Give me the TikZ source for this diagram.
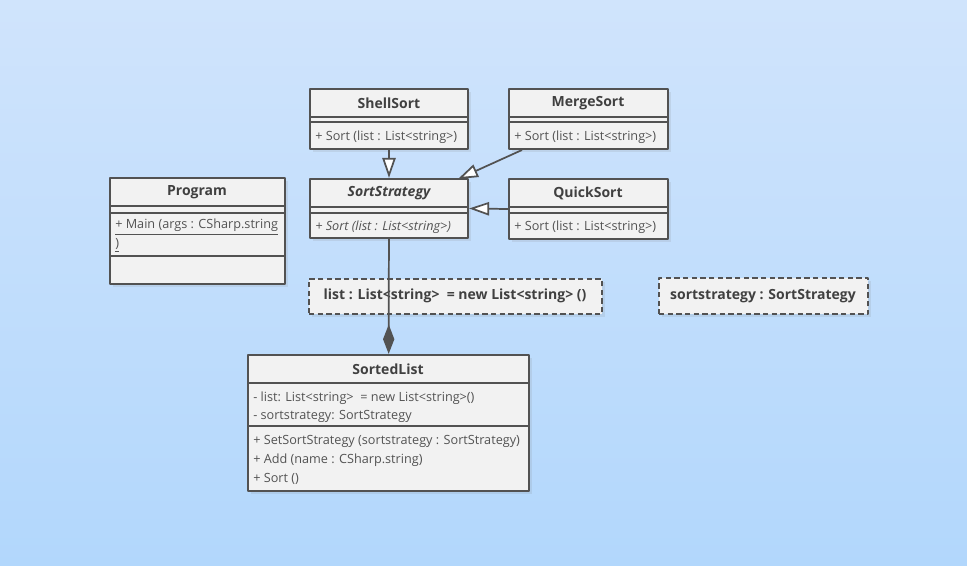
\documentclass[tikz,border=0pt]{standalone}
\usepackage{fontspec}
\setmainfont{Open Sans}
\usetikzlibrary{arrows.meta,shadows,fit}
\definecolor{bgtop}{RGB}{208,228,252}
\definecolor{bgbot}{RGB}{178,215,252}
\definecolor{boxfill}{RGB}{242,242,242}
\definecolor{boxline}{RGB}{82,82,82}
\definecolor{txt}{RGB}{64,64,64}
\tikzset{
	classbox/.style={draw=boxline, fill=boxfill, line width=1.7pt, inner sep=0pt,
		drop shadow={opacity=0.15, shadow xshift=2pt, shadow yshift=-2pt}},
	notebox/.style={classbox, dash pattern=on 4pt off 2.5pt},
	ctitle/.style={font=\fontsize{10.5}{12}\selectfont\bfseries, text=txt, inner sep=0pt},
	cmember/.style={font=\fontsize{9.5}{11}\selectfont, text=txt!90, anchor=west, inner sep=0pt, yshift=-1.5pt},
	sep/.style={draw=boxline, line width=1.7pt},
	gen/.style={draw=boxline, line width=1.3pt, -{Triangle[length=15pt, width=10pt, fill=white]}},
	comp/.style={draw=boxline, line width=1.3pt, -{Diamond[length=22pt, width=8.5pt, fill=boxline]}}
}
\begin{document}
\begin{tikzpicture}[x=0.75pt,y=-0.75pt,line join=round]
	\shade[top color=bgtop, bottom color=bgbot] (0,0) rectangle (967,566);
	\useasboundingbox (0,0) rectangle (967,566);
	% classes
	\node[classbox, fit={(310,89) (468,149)}] (shell) {};
	\node[classbox, fit={(509,89) (668,149)}] (merge) {};
	\node[classbox, fit={(310,179) (468,238)}] (strat) {};
	\node[classbox, fit={(509,179) (668,239)}] (quick) {};
	\node[classbox, fit={(110,178) (285,284)}] (prog) {};
	\node[classbox, fit={(248,355) (529,491)}] (sorted) {};
	\node[notebox, fit={(309,279) (602,314)}] (listnote) {};
	\node[notebox, fit={(659,278) (868,314)}] (stratnote) {};
	\draw[sep] (310,117)--(468,117) (310,122)--(468,122)
		(509,117)--(668,117) (509,122)--(668,122)
		(310,207)--(468,207) (310,213)--(468,213)
		(509,207)--(668,207) (509,213)--(668,213)
		(110,206)--(285,206) (110,213)--(285,213) (110,256)--(285,256)
		(248,383)--(529,383) (248,426)--(529,426);
	% texts
	\node[ctitle] (shellT) at (389,103) {ShellSort};
	\node[cmember] (shellM) at (315,135) {+ Sort (list : List<string>)};
	\node[ctitle] (mergeT) at (588,103) {MergeSort};
	\node[cmember] (mergeM) at (514,135) {+ Sort (list : List<string>)};
	\node[ctitle] (stratT) at (389,193) {\itshape SortStrategy};
	\node[cmember] (stratM) at (315,225) {\itshape + Sort (list : List<string>)};
	\node[ctitle] (quickT) at (588,193) {QuickSort};
	\node[cmember] (quickM) at (514,225) {+ Sort (list : List<string>)};
	\node[ctitle] (progT) at (197,192) {Program};
	\node[cmember] (progM) at (115,225) {\underline{+ Main (args : CSharp.string}};
	\node[cmember] (progM2) at (115,243) {\underline{)}};
	\node[ctitle] (listT) at (455,296) {list : List<string> \ = new List<string> ()};
	\node[ctitle] (stratN) at (763,296) {sortstrategy : SortStrategy};
	\node[ctitle] (sortedT) at (388,369) {SortedList};
	\foreach \n/\y/\t in {a/396/{- list: List<string> \ = new List<string>()},
		b/414/{- sortstrategy: SortStrategy},
		c/439/{+ SetSortStrategy (sortstrategy : SortStrategy)},
		d/458/{+ Add (name : CSharp.string)},
		e/477/{+ Sort ()}}
		\node[cmember] (sorted\n) at (253,\y) {\t};
	% connectors
	\coordinate (mergeFoot) at (522,150);
	\coordinate (stratHead) at (458,179);
	\draw[gen] (shell) -- (strat);
	\draw[gen] (mergeFoot) -- (stratHead);
	\draw[gen] (quick.west) -- (strat.east);
	\draw[comp] (strat) -- (sorted);
\end{tikzpicture}
\end{document}
